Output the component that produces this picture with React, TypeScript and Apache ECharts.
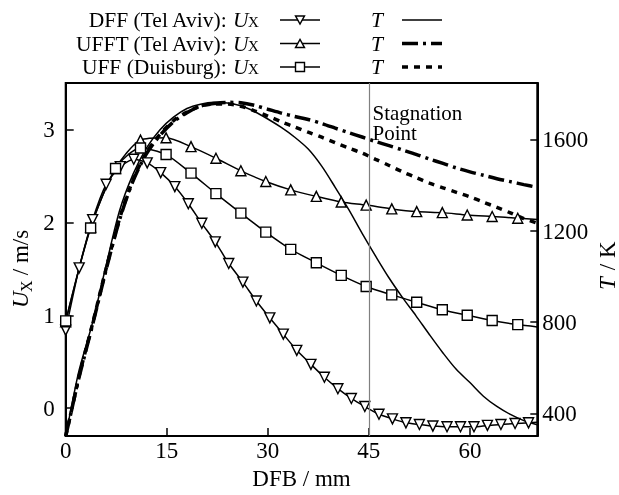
import React, { useEffect, useRef } from "react";
import * as echarts from "echarts";

// Axis ticks
const X_TICKS = [0, 15, 30, 45, 60];
const U_TICKS = [0, 1, 2, 3];
const T_TICKS = [400, 800, 1200, 1600];
const STAGNATION_X = 45;

// DFF (Tel Aviv): axial velocity U_X [m/s] vs distance from burner [mm]
const DFF_X = [0, 2.0, 4.0, 6.0, 8.1, 10.1, 12.1, 14.1, 16.2, 18.2, 20.2, 22.2, 24.2, 26.3, 28.3, 30.3, 32.3, 34.3, 36.4, 38.4, 40.4, 42.4, 44.4, 46.5, 48.5, 50.5, 52.5, 54.5, 56.6, 58.6, 60.6, 62.6, 64.6, 66.7, 68.7, 70];
const DFF_U = [0.84, 1.51, 2.03, 2.41, 2.6, 2.68, 2.64, 2.535, 2.385, 2.2, 1.99, 1.79, 1.557, 1.357, 1.154, 0.972, 0.797, 0.623, 0.472, 0.333, 0.21, 0.105, 0.018, -0.065, -0.115, -0.157, -0.175, -0.192, -0.2, -0.2, -0.2, -0.185, -0.175, -0.165, -0.157, -0.152];

// UFFT (Tel Aviv)
const UFFT_X = [0, 3.7, 7.4, 11.1, 14.9, 18.6, 22.3, 26.0, 29.7, 33.4, 37.2, 40.9, 44.6, 48.4, 52.1, 55.9, 59.6, 63.3, 67.1, 70];
const UFFT_U = [0.93, 1.95, 2.58, 2.885, 2.91, 2.815, 2.69, 2.555, 2.44, 2.35, 2.28, 2.22, 2.186, 2.145, 2.116, 2.105, 2.08, 2.063, 2.045, 2.03];

// UFF (Duisburg)
const UFF_X = [0, 3.7, 7.4, 11.1, 14.9, 18.6, 22.3, 26.0, 29.7, 33.4, 37.2, 40.9, 44.6, 48.4, 52.1, 55.9, 59.6, 63.3, 67.1, 70];
const UFF_U = [0.94, 1.94, 2.58, 2.8, 2.73, 2.53, 2.31, 2.1, 1.895, 1.71, 1.565, 1.43, 1.31, 1.22, 1.14, 1.06, 1.0, 0.944, 0.9, 0.875];

// Temperature profiles T [K]
const T_X = [0, 1, 2, 4, 6, 8, 10, 12, 14, 16, 18, 20, 22, 24, 26, 28, 30, 32, 34, 36, 38, 40, 42, 44, 46, 48, 50, 52, 54, 56, 58, 60, 62, 64, 66, 68, 70];
const T_DFF = [300, 450, 590, 800, 1050, 1290, 1450, 1565, 1645, 1700, 1738, 1757, 1765, 1762, 1750, 1725, 1692, 1655, 1612, 1560, 1485, 1392, 1295, 1190, 1090, 994, 908, 828, 745, 665, 592, 535, 475, 430, 395, 368, 350];
const T_UFFT = [300, 430, 560, 790, 1030, 1250, 1420, 1540, 1620, 1680, 1720, 1748, 1760, 1765, 1763, 1752, 1735, 1718, 1703, 1690, 1672, 1652, 1632, 1613, 1593, 1575, 1556, 1537, 1516, 1497, 1477, 1460, 1445, 1430, 1417, 1404, 1392];
const T_UFF = [300, 430, 565, 795, 1035, 1255, 1425, 1545, 1625, 1685, 1722, 1748, 1758, 1758, 1748, 1728, 1705, 1680, 1657, 1634, 1612, 1588, 1565, 1542, 1515, 1488, 1460, 1435, 1410, 1390, 1370, 1350, 1327, 1304, 1280, 1255, 1235];

const SERIF = "Liberation Serif";
const DASH_DOT = [16, 5, 3, 5];
const DOTTED = [6, 6];

// markers on every sample except the last one, which only extends the line
function markedData(xs: number[], ys: number[]) {
  return xs.map((x, i) =>
    i === xs.length - 1 ? { value: [x, ys[i]], symbol: "none" } : [x, ys[i]]
  );
}

function lineData(xs: number[], ys: number[]) {
  return xs.map((x, i) => [x, ys[i]]);
}

function trianglePoints(cx: number, cy: number, s: number, down: boolean) {
  const h = s * 0.9;
  if (down) {
    return [[cx - s / 2, cy - h / 2], [cx + s / 2, cy - h / 2], [cx, cy + h / 2]];
  }
  return [[cx, cy - h / 2], [cx + s / 2, cy + h / 2], [cx - s / 2, cy + h / 2]];
}

function legendGraphics() {
  const rows = [
    { label: "DFF (Tel Aviv): ", marker: "down", dash: "solid", width: 1.5 },
    { label: "UFFT (Tel Aviv): ", marker: "up", dash: DASH_DOT, width: 3.5 },
    { label: "UFF (Duisburg): ", marker: "square", dash: DOTTED, width: 3.5 },
  ];
  const rowY = [20, 43.5, 67];
  const els: any[] = [];
  rows.forEach((r, i) => {
    const y = rowY[i];
    // plain label, then the italic symbol U and its subscript X
    els.push({
      type: "text",
      x: 232,
      y,
      style: {
        text: r.label,
        align: "right",
        verticalAlign: "middle",
        fontFamily: SERIF,
        fontSize: 21.5,
        fill: "#000",
      },
    });
    els.push({
      type: "text",
      x: 233,
      y,
      style: {
        text: "U",
        align: "left",
        verticalAlign: "middle",
        fontFamily: SERIF,
        fontSize: 21.5,
        fontStyle: "italic",
        fill: "#000",
      },
    });
    els.push({
      type: "text",
      x: 248,
      y: y + 2,
      style: {
        text: "X",
        align: "left",
        verticalAlign: "middle",
        fontFamily: SERIF,
        fontSize: 15,
        fill: "#000",
      },
    });
    els.push({
      type: "line",
      shape: { x1: 280, y1: y, x2: 320, y2: y },
      style: { stroke: "#000", lineWidth: 1.5 },
    });
    if (r.marker === "square") {
      els.push({
        type: "rect",
        shape: { x: 300 - 4.5, y: y - 4.5, width: 9, height: 9 },
        style: { fill: "#fff", stroke: "#000", lineWidth: 1.4 },
      });
    } else {
      els.push({
        type: "polygon",
        shape: { points: trianglePoints(300, y, 9, r.marker === "down") },
        style: { fill: "#fff", stroke: "#000", lineWidth: 1.4 },
      });
    }
    els.push({
      type: "text",
      x: 377,
      y,
      style: {
        text: "T",
        align: "center",
        verticalAlign: "middle",
        fontFamily: SERIF,
        fontSize: 21.5,
        fontStyle: "italic",
        fill: "#000",
      },
    });
    els.push({
      type: "line",
      shape: { x1: 402, y1: y, x2: 442, y2: y },
      style: {
        stroke: "#000",
        lineWidth: r.width,
        lineDash: r.dash === "solid" ? null : r.dash,
      },
    });
  });
  return els;
}

export default function App() {
  const ref = useRef<HTMLDivElement>(null);

  useEffect(() => {
    if (!ref.current) return;
    const chart = echarts.init(ref.current, undefined, { renderer: "svg" });

    const tickLabel = {
      color: "#000",
      fontFamily: SERIF,
      fontSize: 23,
      formatter: (v: number) => String(v),
    };

    const option: any = {
      animation: false,
      grid: {
        left: 65.7,
        right: 81.7,
        top: 83,
        bottom: 49.3,
        show: true,
        borderColor: "#000",
        borderWidth: 2,
      },
      xAxis: {
        type: "value",
        min: 0,
        max: 70,
        interval: 15,
        axisLine: { show: true, onZero: false, lineStyle: { color: "#000", width: 2 } },
        axisTick: {
          show: true,
          inside: true,
          length: 8,
          customValues: X_TICKS,
          lineStyle: { color: "#000", width: 1.5 },
        },
        axisLabel: { ...tickLabel, margin: 3, customValues: X_TICKS },
        splitLine: { show: false },
        name: "DFB / mm",
        nameLocation: "middle",
        nameGap: 29,
        nameTextStyle: { color: "#000", fontFamily: SERIF, fontSize: 23, verticalAlign: "top" },
      },
      yAxis: [
        {
          type: "value",
          min: -0.3,
          max: 3.5,
          position: "left",
          axisLine: { show: true, onZero: false, lineStyle: { color: "#000", width: 2 } },
          axisTick: {
            show: true,
            inside: true,
            length: 8,
            customValues: U_TICKS,
            lineStyle: { color: "#000", width: 1.5 },
          },
          axisLabel: { ...tickLabel, margin: 11, customValues: U_TICKS },
          splitLine: { show: false },
        },
        {
          type: "value",
          min: 300,
          max: 1850,
          position: "right",
          axisLine: { show: true, onZero: false, lineStyle: { color: "#000", width: 2 } },
          axisTick: {
            show: true,
            inside: true,
            length: 7,
            customValues: T_TICKS,
            lineStyle: { color: "#000", width: 1.5 },
          },
          axisLabel: { ...tickLabel, margin: 5, customValues: T_TICKS },
          splitLine: { show: false },
        },
      ],
      graphic: [
        ...legendGraphics(),
        // left axis title: italic U, subscript X, then the unit
        {
          type: "group",
          x: 32,
          y: 262,
          rotation: Math.PI / 2,
          children: [
            {
              type: "text",
              x: -46,
              y: 0,
              style: { text: "U", fontFamily: SERIF, fontSize: 23, fontStyle: "italic", fill: "#000", align: "left", verticalAlign: "bottom" },
            },
            {
              type: "text",
              x: -30,
              y: 2,
              style: { text: "X", fontFamily: SERIF, fontSize: 16, fill: "#000", align: "left", verticalAlign: "bottom" },
            },
            {
              type: "text",
              x: -19,
              y: 0,
              style: { text: " / m/s", fontFamily: SERIF, fontSize: 23, fill: "#000", align: "left", verticalAlign: "bottom" },
            },
          ],
        },
        // right axis title
        {
          type: "group",
          x: 619,
          y: 266,
          rotation: Math.PI / 2,
          children: [
            {
              type: "text",
              x: -24,
              y: 0,
              style: { text: "T", fontFamily: SERIF, fontSize: 23, fontStyle: "italic", fill: "#000", align: "left", verticalAlign: "bottom" },
            },
            {
              type: "text",
              x: -10,
              y: 0,
              style: { text: " / K", fontFamily: SERIF, fontSize: 23, fill: "#000", align: "left", verticalAlign: "bottom" },
            },
          ],
        },
        {
          type: "text",
          x: 372.5,
          y: 102,
          style: {
            text: "Stagnation",
            fontFamily: SERIF,
            fontSize: 21,
            fill: "#000",
            align: "left",
            verticalAlign: "top",
          },
        },
        {
          type: "text",
          x: 372.5,
          y: 122,
          style: {
            text: "Point",
            fontFamily: SERIF,
            fontSize: 21,
            fill: "#000",
            align: "left",
            verticalAlign: "top",
          },
        },
      ],
      series: [
        {
          name: "T DFF",
          type: "line",
          yAxisIndex: 1,
          data: lineData(T_X, T_DFF),
          showSymbol: false,
          smooth: 0.3,
          lineStyle: { color: "#000", width: 1.5 },
          silent: true,
        },
        {
          name: "T UFFT",
          type: "line",
          yAxisIndex: 1,
          data: lineData(T_X, T_UFFT),
          showSymbol: false,
          smooth: 0.3,
          lineStyle: { color: "#000", width: 3.5, type: DASH_DOT },
          silent: true,
        },
        {
          name: "T UFF",
          type: "line",
          yAxisIndex: 1,
          data: lineData(T_X, T_UFF),
          showSymbol: false,
          smooth: 0.3,
          lineStyle: { color: "#000", width: 3.5, type: DOTTED },
          silent: true,
        },
        {
          name: "DFF",
          type: "line",
          yAxisIndex: 0,
          data: markedData(DFF_X, DFF_U),
          symbol: "triangle",
          symbolRotate: 180,
          symbolSize: 10,
          showAllSymbol: true,
          smooth: 0.2,
          lineStyle: { color: "#000", width: 1.5 },
          itemStyle: { color: "#fff", borderColor: "#000", borderWidth: 1.4 },
          silent: true,
          markLine: {
            silent: true,
            symbol: "none",
            label: { show: false },
            lineStyle: { color: "#808080", width: 1.2, type: "solid" },
            data: [{ xAxis: STAGNATION_X }],
          },
        },
        {
          name: "UFFT",
          type: "line",
          yAxisIndex: 0,
          data: markedData(UFFT_X, UFFT_U),
          symbol: "triangle",
          symbolSize: 10,
          showAllSymbol: true,
          smooth: 0.25,
          lineStyle: { color: "#000", width: 1.5 },
          itemStyle: { color: "#fff", borderColor: "#000", borderWidth: 1.4 },
          silent: true,
        },
        {
          name: "UFF",
          type: "line",
          yAxisIndex: 0,
          data: markedData(UFF_X, UFF_U),
          symbol: "rect",
          symbolSize: 10,
          showAllSymbol: true,
          smooth: 0.25,
          lineStyle: { color: "#000", width: 1.5 },
          itemStyle: { color: "#fff", borderColor: "#000", borderWidth: 1.4 },
          silent: true,
        },
      ],
    };

    chart.setOption(option);
    return () => chart.dispose();
  }, []);

  return (
    <div
      ref={ref}
      style={{ position: "fixed", left: 0, top: 0, width: 619, height: 495 }}
    />
  );
}
